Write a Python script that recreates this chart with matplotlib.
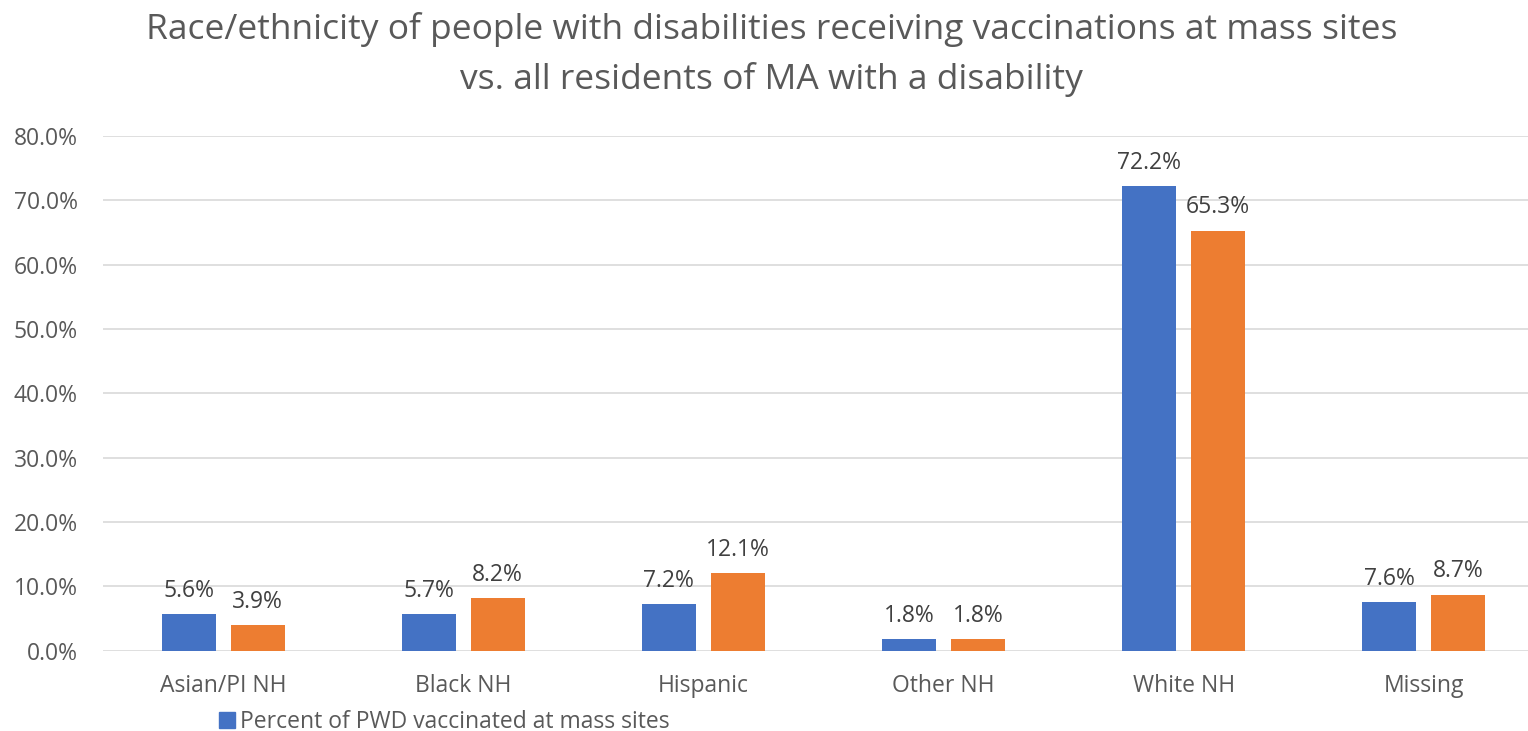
import matplotlib.pyplot as plt
import numpy as np
from matplotlib.ticker import FuncFormatter
from matplotlib.patches import Patch

categories = ["Asian/PI NH", "Black NH", "Hispanic", "Other NH", "White NH", "Missing"]
mass_sites = [5.6, 5.7, 7.2, 1.8, 72.2, 7.6]
all_residents = [3.9, 8.2, 12.1, 1.8, 65.3, 8.7]
series_names = ["Percent of PWD vaccinated at mass sites",
                "Percent of all MA residents with a disability"]

BLUE = "#4472C4"
ORANGE = "#ED7D31"
TEXT = "#595959"
GRID = "#D9D9D9"

plt.rcParams['font.family'] = ['Open Sans', 'DejaVu Sans']

W, H = 1528, 731
fig = plt.figure(figsize=(W / 100, H / 100), dpi=100)
# axes spans slightly past the right edge of the canvas
left, right = 103, 1544
bottom, top = 80.5, 595
ax = fig.add_axes([left / W, bottom / H, (right - left) / W, (top - bottom) / H])

x = np.arange(len(categories))
bw = 0.225
off = 0.1436
b1 = ax.bar(x - off, mass_sites, bw, color=BLUE, zorder=3)
b2 = ax.bar(x + off, all_residents, bw, color=ORANGE, zorder=3)

for bars, vals in ((b1, mass_sites), (b2, all_residents)):
    for rect, v in zip(bars, vals):
        ax.annotate(f"{v:.1f}%", (rect.get_x() + rect.get_width() / 2, v),
                    xytext=(0, 8), textcoords="offset points",
                    ha="center", va="bottom", fontsize=16.5, color="#404040")

ax.set_xlim(-0.5, len(categories) - 0.5)
ax.set_ylim(0, 80)
ax.set_yticks(np.arange(0, 81, 10))
ax.yaxis.set_major_formatter(FuncFormatter(lambda v, p: f"{v:.1f}%"))
ax.set_xticks(x)
ax.set_xticklabels(categories)
ax.tick_params(axis="both", length=0, labelsize=16.5, colors=TEXT)
ax.tick_params(axis="y", pad=18)
ax.tick_params(axis="x", pad=17)
ax.grid(axis="y", color=GRID, linewidth=1.2, zorder=0)
for s in ax.spines.values():
    s.set_visible(False)

fig.text(0.505, 1 - 12 / H,
         "Race/ethnicity of people with disabilities receiving vaccinations at mass sites\n"
         "vs. all residents of MA with a disability",
         ha="center", va="top", fontsize=25.5, color=TEXT, linespacing=1.55)

fig.legend(handles=[Patch(color=BLUE, label=series_names[0])],
           loc="center left", bbox_to_anchor=(210 / W, 1 - 722 / H),
           frameon=False, fontsize=16.5, labelcolor=TEXT,
           handlelength=0.7, handleheight=0.7, handletextpad=0.2, borderaxespad=0)

fig.savefig("out.png", dpi=100)
